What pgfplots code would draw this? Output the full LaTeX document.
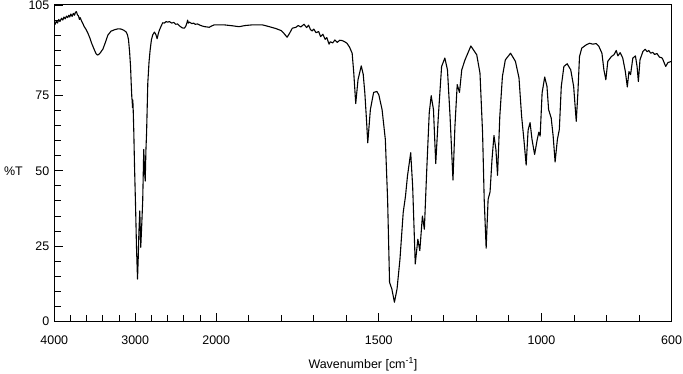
\documentclass[border=0pt]{standalone}
\usepackage{pgfplots}
\pgfplotsset{compat=1.18}
\usepackage{pgfplotstable}
\usepackage{fontspec}
\setmainfont{Liberation Sans}

\pgfplotstableread{
w T
4000 99.0
3990 98.6
3975 99.6
3960 99.0
3945 100.2
3930 99.5
3911 100.6
3895 100.0
3880 101.0
3865 100.4
3850 101.3
3835 100.8
3820 101.6
3809 101.0
3795 102.0
3780 101.2
3765 102.2
3750 101.6
3740 102.5
3727 102.8
3715 101.8
3700 101.3
3690 100.2
3680 100.8
3665 99.8
3650 99.0
3630 97.8
3610 97.0
3584 95.6
3560 94.0
3540 92.4
3522 91.2
3500 89.8
3485 88.9
3468 88.4
3450 88.6
3430 89.2
3399 90.4
3370 92.5
3338 95.0
3300 96.3
3255 96.8
3210 97.1
3173 97.0
3140 96.6
3111 96.0
3095 95.0
3083 93.4
3070 89.5
3058 84.6
3050 79.0
3042 74.2
3038 73.2
3034 71.0
3030 73.5
3025 70.0
3018 63.0
3009 51.6
2995 37.0
2985 25.0
2972 14.1
2962 22.0
2955 29.6
2944 36.7
2932 24.6
2920 32.0
2908 40.0
2895 57.1
2885 50.0
2877 46.6
2868 57.0
2860 62.6
2845 79.1
2830 86.0
2816 90.1
2800 93.5
2784 95.1
2763 96.0
2745 95.2
2730 93.8
2715 95.5
2701 96.7
2680 98.0
2661 99.1
2640 99.0
2620 99.5
2600 99.3
2578 99.5
2550 99.0
2525 99.2
2500 98.6
2476 98.7
2450 98.0
2420 97.4
2393 97.3
2375 98.0
2360 99.2
2353 100.0
2345 99.0
2330 99.3
2300 98.8
2280 99.0
2260 98.6
2230 98.7
2200 98.3
2170 98.0
2140 97.8
2110 97.7
2086 97.6
2060 98.0
2024 98.4
2000 98.4
1975 98.4
1950 98.1
1930 97.8
1910 98.2
1889 98.4
1858 98.4
1840 97.9
1817 97.2
1800 96.5
1792 95.6
1782 94.3
1775 95.5
1766 97.3
1755 97.6
1748 98.2
1740 97.7
1730 98.6
1722 97.5
1716 98.3
1710 96.8
1705 96.4
1700 97.0
1693 95.8
1685 96.2
1679 94.5
1672 95.3
1665 93.6
1660 94.2
1653 92.0
1649 92.8
1642 92.4
1635 93.4
1628 92.6
1620 93.3
1613 93.2
1605 92.8
1598 92.3
1590 91.0
1582 89.0
1577 82.4
1571 72.3
1564 80.2
1554 84.8
1548 82.0
1543 75.8
1538 67.0
1534 59.3
1526 70.3
1516 76.0
1506 76.3
1500 75.2
1490 70.3
1480 60.4
1473 40.5
1467 13.0
1460 10.8
1452 6.4
1444 10.8
1435 20.7
1425 36.2
1418 41.6
1412 48.2
1402 56.0
1396 44.9
1388 19.1
1380 27.3
1374 23.5
1366 35.0
1360 30.6
1353 49.4
1345 69.2
1339 74.9
1332 70.3
1325 52.4
1317 68.1
1307 84.6
1297 87.4
1289 83.5
1281 68.1
1272 46.9
1266 64.8
1259 78.6
1252 76.0
1245 83.5
1235 86.8
1217 91.4
1199 88.5
1189 82.4
1181 62.6
1176 40.5
1170 24.3
1164 40.5
1158 43.0
1152 53.8
1146 61.7
1140 57.1
1135 48.5
1128 68.1
1120 81.3
1111 86.8
1095 89.0
1080 86.3
1069 80.8
1061 68.1
1054 60.4
1047 51.9
1041 63.5
1035 66.0
1029 60.4
1021 55.4
1013 60.4
1008 62.8
1004 61.5
998 75.8
990 81.1
983 78.0
978 70.3
970 67.5
964 61.5
958 52.9
951 60.4
945 63.7
939 78.0
931 84.6
921 85.5
910 83.5
901 78.0
893 66.4
888 75.8
883 87.9
876 90.7
862 91.8
852 92.3
842 92.0
832 92.2
824 91.4
814 89.0
808 83.5
802 80.2
796 86.3
785 87.9
777 88.5
770 89.9
765 88.1
758 89.2
750 87.4
742 82.9
736 77.8
731 82.9
726 81.9
719 87.4
711 88.1
706 84.6
702 79.6
697 86.8
688 89.6
681 90.3
675 89.5
670 89.9
664 89.0
658 89.3
652 88.6
645 88.9
637 87.7
630 87.5
627 87.0
618 84.6
611 85.9
600 86.3
}\spectrum

\begin{document}
\begin{tikzpicture}
\useasboundingbox (-54.5pt,-52.3pt) rectangle (631pt,322.7pt);
\begin{axis}[
  scale only axis,
  width=619.5pt, height=317.7pt,
  at={(0,0)}, anchor=south west,
  font=\fontsize{12.5}{15}\selectfont,
  /pgf/number format/assume math mode=true,
  x coord trafo/.code={\pgfmathparse{(#1>=2000) ? ((4000-#1)*0.2489) : (2497.8-#1)}},
  xmin=4000, xmax=600,
  ymin=0, ymax=105,
  xtick={4000,3000,2000,1500,1000,600},
  xticklabels={4000,3000,2000,1500,1000,600},
  minor xtick={3800,3600,3400,3200,2800,2600,2400,2200,1900,1800,1700,1600,1400,1300,1200,1100,900,800,700},
  ytick={0,25,50,75,105},
  yticklabels={0,25,50,75,105},
  minor ytick={5,10,15,20,30,35,40,45,55,60,65,70,80,85,90,95,100},
  tick align=inside,
  major tick length=9pt,
  minor tick length=6.5pt,
  xtick pos=bottom, ytick pos=left,
  tick style={black, line width=0.9pt},
  axis line style={black, line width=1pt},
  xticklabel style={yshift=-10.5pt},
  yticklabel style={xshift=-1.5pt},
  every axis x label/.style={at={(rel axis cs:0.5,0)}, anchor=center, yshift=-43pt},
  every axis y label/.style={at={(rel axis cs:0,0.4762)}, anchor=west, xshift=-54pt},
  xlabel={Wavenumber [cm\textsuperscript{-1}]},
  ylabel={\%T},
]
\addplot[black, line width=1.1pt, mark=none, line join=round] table[x=w, y=T] {\spectrum};
\end{axis}
\end{tikzpicture}
\end{document}
